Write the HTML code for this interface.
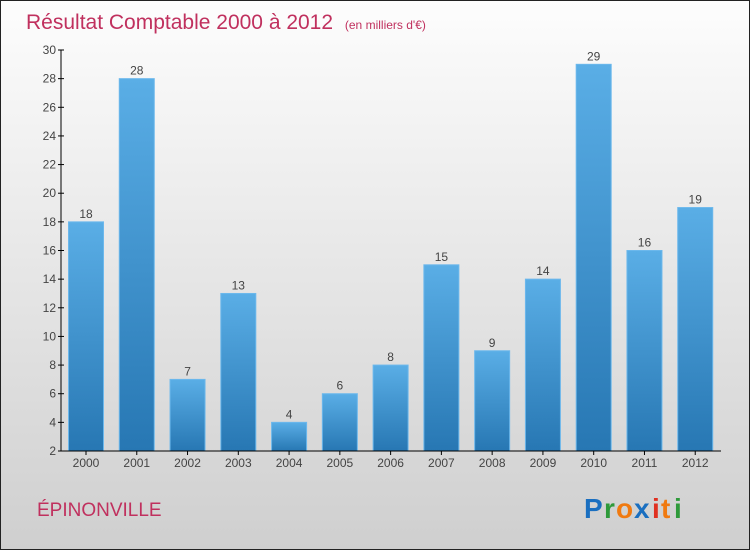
<!DOCTYPE html>
<html><head><meta charset="utf-8"><style>
html,body{margin:0;padding:0}
body{width:750px;height:550px;overflow:hidden;font-family:"Liberation Sans",sans-serif}
#wrap{position:absolute;left:0;top:0;width:748px;height:548px;border:1px solid #222;background:linear-gradient(#fdfdfd,#cfcfcf)}
</style></head><body>
<div id="wrap">
<svg id="chart" width="748" height="548">
<defs>
<linearGradient id="bg" x1="0" y1="0" x2="0" y2="1"><stop offset="0" stop-color="#5aaee6"/><stop offset="1" stop-color="#2777b3"/></linearGradient>
</defs>
<text x="25" y="28" font-size="21" fill="#c0305e">Résultat Comptable 2000 à 2012 <tspan font-size="12" dx="6">(en milliers d'€)</tspan></text>
<text x="36" y="515" font-size="19" fill="#c0305e">ÉPINONVILLE</text>
<g font-size="28" font-weight="bold">
<text x="583" y="517" fill="#1a6fc0">P</text><text x="603" y="517" fill="#2e9a3a">r</text><text x="615" y="517" fill="#f07a10">o</text><text x="633" y="517" fill="#1a6fc0">x</text><text x="651" y="517" fill="#e03020">i</text><text x="660" y="517" fill="#f07a10">t</text><text x="673" y="517" fill="#2e9a3a">i</text>
</g>
<g id="plot"></g>
</svg></div>
<script>
const years=["2000","2001","2002","2003","2004","2005","2006","2007","2008","2009","2010","2011","2012"];
const values=[18,28,7,13,4,6,8,15,9,14,29,16,19];
const yTicks=[2,4,6,8,10,12,14,16,18,20,22,24,26,28,30];
const ns="http://www.w3.org/2000/svg";
const g=document.getElementById('plot');
const X0=60,X1=720,Y0=450,Y1=49,vmin=2,vmax=30;
const y=v=>Y0-(v-vmin)/(vmax-vmin)*(Y0-Y1);
const step=(X1-X0)/years.length;
const x=i=>X0+i*step;
function mk(t,a){const e=document.createElementNS(ns,t);for(const k in a)e.setAttribute(k,a[k]);g.appendChild(e);return e;}
values.forEach((v,i)=>{
 const r=mk('rect',{x:x(i)+7.5,y:y(v),width:35,height:Y0-y(v),fill:'url(#bg)',stroke:'#6cb8ec','stroke-width':1});
 
 
 const t=mk('text',{x:x(i)+25,y:y(v)-4,'text-anchor':'middle','font-size':12,fill:'#444'});t.textContent=v;
 
 
 const l=mk('text',{x:x(i)+25,y:Y0+16,'text-anchor':'middle','font-size':12,fill:'#444'});l.textContent=years[i];
 
 
 mk('line',{x1:x(i)+25,x2:x(i)+25,y1:Y0,y2:Y0+4,stroke:'#000'});
});
yTicks.forEach(v=>{
 mk('line',{x1:X0-3,x2:X0+3,y1:y(v),y2:y(v),stroke:'#000'});
 const t=mk('text',{x:X0-5,y:y(v)+4,'text-anchor':'end','font-size':12,fill:'#444'});t.textContent=v;
 
 
});
const ya=mk('line',{x1:X0,x2:X0,y1:Y1,y2:Y0,stroke:'#000'});


const xa=mk('line',{x1:X0,x2:X1,y1:Y0,y2:Y0,stroke:'#000'});


</script>
</body></html>
